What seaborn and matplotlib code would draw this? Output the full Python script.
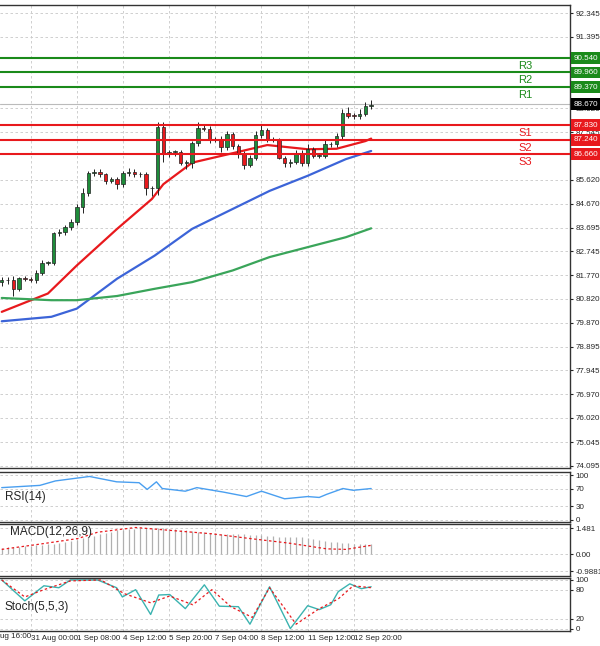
import numpy as np
import pandas as pd
import matplotlib
matplotlib.use("Agg")
import matplotlib.pyplot as plt
import seaborn as sns

# --- data ---
closes = [81.57, 81.60, 81.24, 81.66, 81.64, 81.60, 81.88, 82.27, 82.27, 83.48, 83.54, 83.71, 83.94,
          84.55, 85.09, 85.89, 85.95, 85.85, 85.59, 85.65, 85.45, 85.89, 85.95, 85.85, 85.85, 85.28,
          85.28, 87.75, 86.66, 86.75, 86.75, 86.32, 86.32, 87.10, 87.72, 87.69, 87.26, 87.26, 86.95,
          87.46, 86.99, 86.70, 86.23, 86.52, 87.43, 87.62, 87.26, 87.26, 86.52, 86.30, 86.35, 86.72,
          86.32, 86.86, 86.59, 86.59, 87.06, 87.06, 87.39, 88.33, 88.22, 88.20, 88.30, 88.60, 88.65]
first_open = 81.50
wick_up = [0.12, 0.10, 0.15, 0.05, 0.08, 0.05, 0.10, 0.12, 0.10, 0.05, 0.10, 0.10, 0.10,
           0.10, 0.20, 0.10, 0.10, 0.10, 0.05, 0.10, 0.10, 0.10, 0.15, 0.10, 0.10, 0.10,
           0.10, 0.20, 0.20, 0.10, 0.10, 0.10, 0.10, 0.10, 0.22, 0.10, 0.10, 0.10, 0.15,
           0.12, 0.10, 0.10, 0.10, 0.10, 0.15, 0.25, 0.10, 0.10, 0.05, 0.05, 0.10, 0.10,
           0.10, 0.20, 0.10, 0.10, 0.20, 0.10, 0.12, 0.15, 0.25, 0.10, 0.20, 0.15, 0.20]
wick_dn = [0.15, 0.15, 0.30, 0.10, 0.10, 0.10, 0.15, 0.10, 0.10, 0.10, 0.10, 0.15, 0.10,
           0.15, 0.25, 0.10, 0.10, 0.10, 0.15, 0.10, 0.20, 0.10, 0.10, 0.10, 0.10, 0.25,
           0.30, 0.25, 0.30, 0.10, 0.15, 0.10, 0.25, 0.20, 0.10, 0.10, 0.15, 0.10, 0.20,
           0.10, 0.10, 0.20, 0.15, 0.10, 0.10, 0.10, 0.10, 0.10, 0.05, 0.15, 0.15, 0.10,
           0.15, 0.15, 0.10, 0.10, 0.10, 0.10, 0.10, 0.10, 0.10, 0.10, 0.10, 0.10, 0.10]

ma_x = [0, 8, 13, 20, 26, 28, 33, 40, 46, 53, 58, 63, 64]
ma_red = [80.30, 81.04, 82.17, 83.65, 84.85, 85.45, 86.32, 86.70, 87.03, 86.86, 86.88, 87.19, 87.29]
blue_x = [0, 8.6, 13, 20, 26.5, 33, 40, 46.4, 53, 59.6, 64]
ma_blue = [79.92, 80.10, 80.43, 81.64, 82.57, 83.65, 84.45, 85.18, 85.79, 86.46, 86.79]
ma_green = [80.86, 80.77, 80.77, 80.94, 81.23, 81.50, 81.97, 82.51, 82.91, 83.31, 83.67]

levels = [90.54, 89.96, 89.37, 87.83, 87.24, 86.66]
level_names = ["R3", "R2", "R1", "S1", "S2", "S3"]
last_price = 88.67
price_ticks = [92.345, 91.395, 88.520, 87.545, 85.620, 84.670, 83.695, 82.745, 81.770,
               80.820, 79.870, 78.895, 77.945, 76.970, 76.020, 75.045, 74.095]

rsi_x = [0, 6.6, 9.3, 15.2, 19.9, 23.8, 25.2, 26.8, 27.8, 31.8, 33.8, 38.4, 42.4, 45, 49, 53, 55, 56.3, 59.1, 60.9, 64]
rsi = [72, 77, 87, 97, 85, 83, 68, 85, 70, 64, 72, 62, 52, 64, 47, 52, 50, 57, 70, 66, 70]

macd_x = list(range(0, 65, 4))
macd_hist = [0.36, 0.45, 0.55, 0.75, 1.05, 1.35, 1.50, 1.50, 1.35, 1.20, 1.15, 1.10, 1.00, 0.95, 0.75, 0.62, 0.55]
sig_x = [0, 6.6, 13.2, 16.6, 23.2, 29.8, 36.4, 43, 49.7, 56.3, 59.6, 64]
macd_sig = [0.27, 0.57, 0.89, 1.25, 1.52, 1.34, 1.16, 0.89, 0.63, 0.30, 0.27, 0.50]

st_x = [0, 2.6, 4, 7.3, 9.9, 11.9, 16.6, 19.9, 20.9, 23.2, 25.8, 27.2, 29.1, 31.8, 35.1, 37.7, 41, 43, 46.4, 50, 53, 55, 57, 58.3, 60.3, 62.3, 64]
st_main = [100, 72, 57, 88, 84, 100, 100, 84, 65, 80, 29, 69, 70, 41, 90, 46, 45, 9, 86, 0, 47, 39, 49, 76, 92, 82, 86]
sg_x = [0, 4, 7.3, 11.9, 17.2, 21.2, 25.8, 29.1, 33.1, 36.4, 39.7, 43.4, 46.4, 51, 55, 58.3, 60.9, 64]
st_sig = [100, 65, 80, 98, 100, 72, 53, 67, 49, 80, 45, 23, 84, 9, 41, 61, 88, 84]

first_tick_pos = -3
first_tick_lab = "30 Aug 16:00"
xtick_pos = [5, 13, 21, 29, 37, 45, 53, 61]
xtick_lab = ["31 Aug 00:00", "1 Sep 08:00", "4 Sep 12:00", "5 Sep 20:00",
             "7 Sep 04:00", "8 Sep 12:00", "11 Sep 12:00", "12 Sep 20:00"]

sns.set_style("white")
plt.rcParams["font.family"] = "Liberation Sans"
W, H = 600, 646
fig = plt.figure(figsize=(6, 6.46), dpi=100)

def axes_px(top, bottom):
    return fig.add_axes([0, (H - bottom) / H, 570 / W, (bottom - top) / H])

ax = axes_px(5, 468)
ax_rsi = axes_px(472, 522)
ax_macd = axes_px(524, 576)
ax_st = axes_px(578, 631)
XMAX = 570 / 5.79
GREEN = "#1e8c3a"
RED = "#e8191d"
FS = 5.8

# candles
opens = [first_open] + closes[:-1]
df = pd.DataFrame({"i": np.arange(len(closes)), "o": opens, "c": closes})
df["hi"] = df[["o", "c"]].max(axis=1) + np.array(wick_up)
df["lo"] = df[["o", "c"]].min(axis=1) - np.array(wick_dn)
for _, r in df.iterrows():
    col = GREEN if r.c >= r.o else RED
    ax.vlines(r.i, r.lo, r.hi, color="#222222", lw=0.7, zorder=3)
    h = max(abs(r.c - r.o), 0.03)
    ax.bar(r.i, h, bottom=min(r.o, r.c), width=0.6, color=col, edgecolor="#222222", lw=0.5, zorder=4)

sns.lineplot(x=ma_x, y=ma_red, ax=ax, color=RED, lw=1.6, zorder=2)
sns.lineplot(x=blue_x, y=ma_blue, ax=ax, color="#3c64d8", lw=1.6, zorder=2)
sns.lineplot(x=blue_x, y=ma_green, ax=ax, color="#3aa55a", lw=1.6, zorder=2)

ax.set_ylim(74.0, 92.68)
ax.set_yticks(price_ticks)
ax.set_yticklabels([f"{v:.3f}" for v in price_ticks])
ax.axhline(last_price, color="#bbbbbb", lw=0.8)
for v, name in zip(levels, level_names):
    col = "#1a8a1a" if name[0] == "R" else RED
    ax.axhline(v, color=col, lw=1.5, zorder=5)
    ax.text(XMAX - 9, v - 0.12, name, color=col, fontsize=8, va="top", ha="left")
    ax.text(1.006, v, f"{v:.3f}", transform=ax.get_yaxis_transform(), color="white", fontsize=FS,
            va="center", ha="left", zorder=10, bbox=dict(boxstyle="square,pad=0.3", fc=col, ec="none"))
ax.text(1.006, last_price, f"{last_price:.3f}", transform=ax.get_yaxis_transform(), color="white",
        fontsize=FS, va="center", ha="left", zorder=10,
        bbox=dict(boxstyle="square,pad=0.3", fc="black", ec="none"))

# RSI
sns.lineplot(x=rsi_x, y=rsi, ax=ax_rsi, color="#4a9ff0", lw=1.0)
ax_rsi.set_ylim(-5, 107)
ax_rsi.set_yticks([0, 30, 70, 100])
ax_rsi.text(0.5, 50, "RSI(14)", fontsize=8.5, va="center")

# MACD
hist = np.interp(np.arange(65), macd_x, macd_hist)
ax_macd.vlines(np.arange(65), 0, hist, color="#b0b0b0", lw=0.9)
sns.lineplot(x=sig_x, y=macd_sig, ax=ax_macd, color=RED, lw=0.9, linestyle=(0, (2, 2)))
ax_macd.set_ylim(-1.25, 1.72)
ax_macd.set_yticks([-0.9881, 0.0, 1.481])
ax_macd.set_yticklabels(["-0.9881", "0.00", "1.481"])
ax_macd.text(1.5, 1.25, "MACD(12,26,9)", fontsize=8.5, va="center")

# Stochastic
sns.lineplot(x=st_x, y=st_main, ax=ax_st, color="#3bb3b0", lw=1.0)
sns.lineplot(x=sg_x, y=st_sig, ax=ax_st, color=RED, lw=0.9, linestyle=(0, (2, 2)))
ax_st.set_ylim(-5, 104)
ax_st.set_yticks([0, 20, 80, 100])
ax_st.text(0.5, 45, "Stoch(5,5,3)", fontsize=8.5, va="center")

for a in (ax, ax_rsi, ax_macd, ax_st):
    a.yaxis.tick_right()
    a.tick_params(axis="y", labelsize=FS, length=2, pad=2)
    a.set_xticks(xtick_pos)
    a.set_xlim(-0.3, XMAX)
    a.tick_params(axis="x", labelbottom=False, length=0)
    a.grid(True, color="#c8c8c8", linestyle=(0, (3, 3)), linewidth=0.6)
    for s in a.spines.values():
        s.set_color("#333333")
        s.set_linewidth(1.0)
    a.spines["left"].set_visible(False)

ax_st.tick_params(axis="x", labelbottom=True, labelsize=FS, pad=3)
ax_st.set_xticklabels(xtick_lab, ha="left")
ax_st.text(first_tick_pos, -0.03, first_tick_lab, transform=ax_st.get_xaxis_transform(),
           fontsize=FS, ha="left", va="top", clip_on=False)

fig.savefig("out.png", dpi=100, facecolor="white")
